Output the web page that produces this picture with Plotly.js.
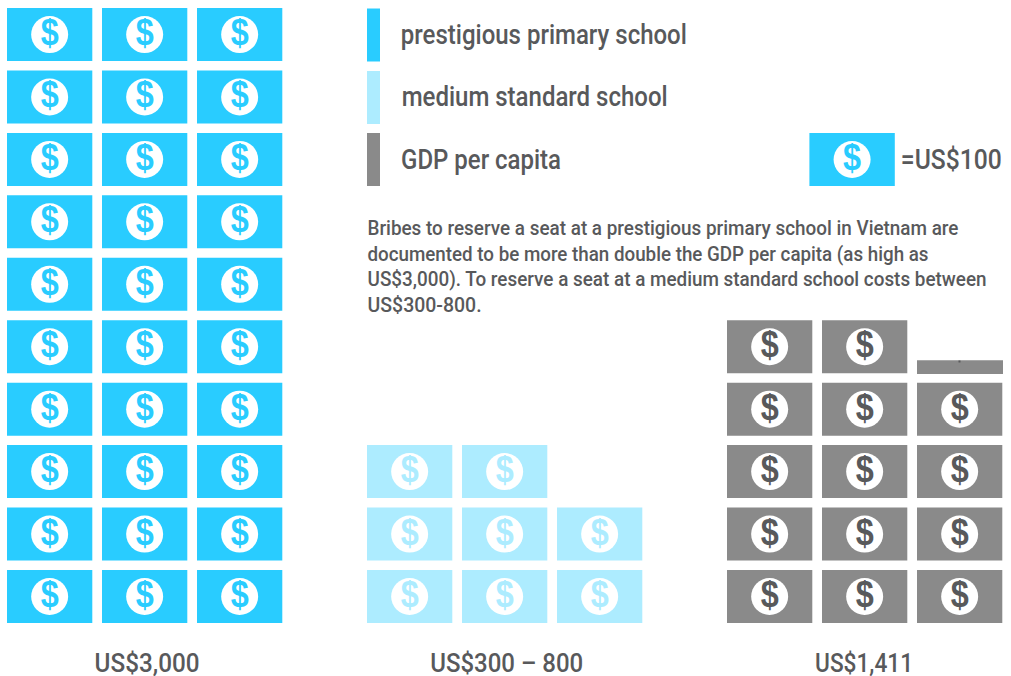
<!DOCTYPE html>
<html><head><meta charset="utf-8">
<script src="https://cdn.plot.ly/plotly-3.0.1.min.js"></script>
<style>html,body{margin:0;padding:0;background:#fff}#chart{width:1011px;height:676px}</style>
</head><body><div id="chart"></div>
<script>
// Data
const categories = ['prestigious primary school', 'medium standard school', 'GDP per capita'];
const billTotals = [30, 8, 14.11];
const valueLabels = ['US$3,000', 'US$300 – 800', 'US$1,411'];
const keyLabel = '=US$100';
const noteLines = [
  'Bribes to reserve a seat at a prestigious primary school in Vietnam are',
  'documented to be more than double the GDP per capita (as high as',
  'US$3,000). To reserve a seat at a medium standard school costs between',
  'US$300-800.'
];
// Styles
const fills = ['#29ccff', '#adecff', '#8a8a8a'];
const glyphs = ['#29ccff', '#adecff', '#58595b'];
const textColor = '#58595b';
const font = 'Roboto,"Liberation Sans",sans-serif';
const groupLeft = [7, 367, 727], pitchX = 95, pitchY = 62.44, billW = 85.3, billH = 53, base = 623, perRow = 3;
const partialShown = 0.26;

const rects = {x: [], top: [], h: [], w: [], c: []};
const circles = {x: [], y: []};
const signs = {x: [], y: [], c: []};
function bill(left, top, w, h, fill, glyph, whole) {
  rects.x.push(left + w / 2); rects.top.push(top); rects.h.push(h); rects.w.push(w); rects.c.push(fill);
  if (whole) {
    circles.x.push(left + w / 2); circles.y.push(top + h / 2);
    signs.x.push(left + w / 2); signs.y.push(top + h / 2); signs.c.push(glyph);
  }
}
billTotals.forEach((total, g) => {
  const whole = Math.floor(total);
  for (let i = 0; i < whole; i++) {
    const row = Math.floor(i / perRow), col = i % perRow;
    bill(groupLeft[g] + col * pitchX, base - billH - row * pitchY, billW, billH, fills[g], glyphs[g], true);
  }
  if (total > whole) {
    const row = Math.floor(whole / perRow), col = whole % perRow;
    const h = billH * partialShown;
    bill(groupLeft[g] + col * pitchX, base - row * pitchY - h + 0.7, billW + 0.7, h, fills[g], glyphs[g], false);
  }
});
// Legend swatches and key bill
[8.5, 71, 133].forEach((top, i) => bill(367, top, 13, billH, fills[i], glyphs[i], false));
bill(809.4, 133, 85.4, billH, fills[0], glyphs[0], true);

const traces = [
  {type: 'bar', x: rects.x, y: rects.h, base: rects.top, width: rects.w,
   marker: {color: rects.c, line: {width: 0}}, hoverinfo: 'skip', showlegend: false},
  {type: 'scatter', mode: 'markers', x: circles.x, y: circles.y,
   marker: {symbol: 'circle', size: 37, color: '#ffffff', line: {width: 0}}, hoverinfo: 'skip', showlegend: false},
  {type: 'scatter', mode: 'text', x: signs.x, y: signs.y.map(v => v + 1.5), text: signs.x.map(() => '$'),
   textposition: 'middle center', textfont: {family: '"Liberation Sans",sans-serif', size: 36, color: signs.c, weight: 700},
   hoverinfo: 'skip', showlegend: false},
  {type: 'scatter', mode: 'markers', x: [959.5], y: [361.5],
   marker: {symbol: 'square', size: 2, color: glyphs[2]}, hoverinfo: 'skip', showlegend: false}
];

// Each text: [string, left px, right px, vertical centre, size]
const texts = [
  [categories[0], 401, 687, 35, 27],
  [categories[1], 401, 667, 97, 27],
  [categories[2], 401, 561, 160, 27],
  [keyLabel, 901, 1002, 160, 27],
  [noteLines[0], 367, 958, 228, 20],
  [noteLines[1], 367, 928, 253.6, 20],
  [noteLines[2], 367, 986, 279.2, 20],
  [noteLines[3], 367, 481, 304.8, 20],
  [valueLabels[0], 94, 199, 663, 25],
  [valueLabels[1], 430, 583, 663, 25],
  [valueLabels[2], 815, 913, 663, 25]
];
const annotations = texts.map(t => ({text: t[0], x: (t[1] + t[2]) / 2, y: t[3], xref: 'x', yref: 'y',
  showarrow: false, xanchor: 'center', yanchor: 'middle',
  font: {family: font, size: t[4], color: textColor, weight: 500}}));

Plotly.newPlot('chart', traces, {
  width: 1011, height: 676, margin: {l: 0, r: 0, t: 0, b: 0},
  paper_bgcolor: '#fff', plot_bgcolor: '#fff', showlegend: false, barmode: 'overlay',
  xaxis: {range: [0, 1011], visible: false, fixedrange: true},
  yaxis: {range: [676, 0], visible: false, fixedrange: true},
  annotations
}, {displayModeBar: false, staticPlot: true}).then(gd => {
  gd.querySelectorAll('text.annotation-text').forEach((el, i) => {
    el.setAttribute('textLength', texts[i][2] - texts[i][1]);
    el.setAttribute('lengthAdjust', 'spacingAndGlyphs');
  });
  gd.querySelectorAll('.scatterlayer .textpoint text').forEach(el => {
    el.setAttribute('textLength', 18);
    el.setAttribute('lengthAdjust', 'spacingAndGlyphs');
  });
});
</script></body></html>
